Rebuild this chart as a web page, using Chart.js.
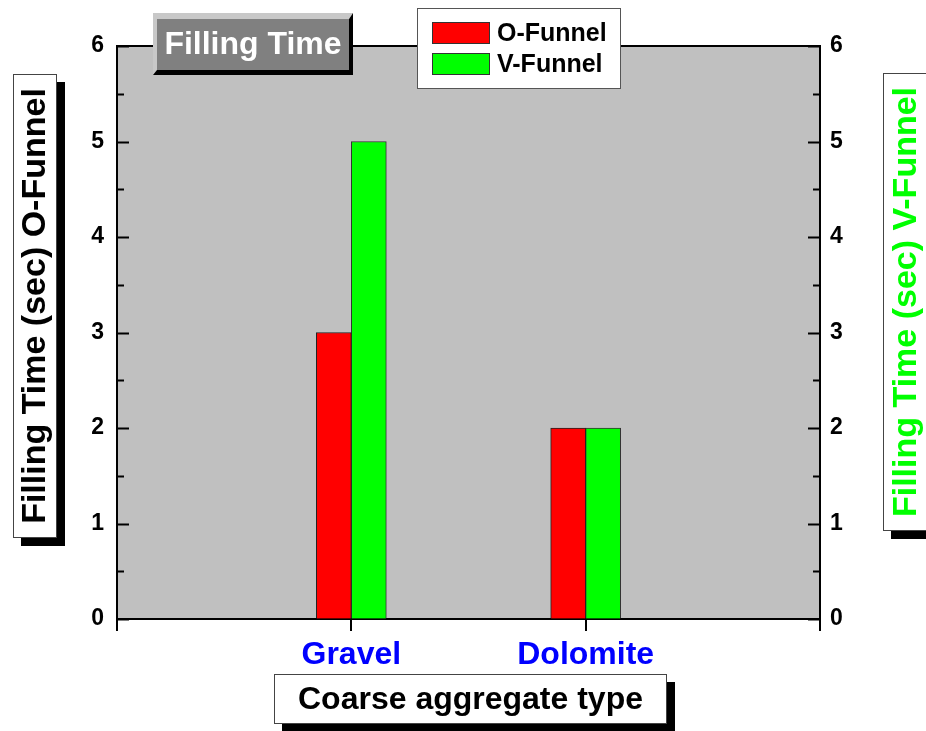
<!DOCTYPE html>
<html>
<head>
<meta charset="utf-8">
<script src="https://cdn.jsdelivr.net/npm/chart.js@4.4.1/dist/chart.umd.min.js"></script>
<style>
  html, body { margin: 0; padding: 0; background: #ffffff; }
  #wrap { position: relative; width: 926px; height: 731px; }
</style>
</head>
<body>
<div id="wrap"><canvas id="c" width="926" height="731"></canvas></div>
<script>
// ---- data ----
const categories = ['', 'Gravel', 'Dolomite', ''];
const oFunnel = [null, 3, 2, null];
const vFunnel = [null, 5, 2, null];
const yTicks = [0, 1, 2, 3, 4, 5, 6];
const seriesNames = ['O-Funnel', 'V-Funnel'];
const chartTitle = 'Filling Time';
const xTitle = 'Coarse aggregate type';
const yLeftTitle = 'Filling Time (sec) O-Funnel';
const yRightTitle = 'Filling Time (sec) V-Funnel';

const FONT = '"Liberation Sans", Arial, Helvetica, sans-serif';

const plotBg = {
  id: 'plotBg',
  beforeDraw(chart) {
    const { ctx, chartArea: a } = chart;
    ctx.save();
    ctx.fillStyle = '#c0c0c0';
    ctx.fillRect(a.left, a.top, a.right - a.left, a.bottom - a.top);
    ctx.restore();
  }
};

function shadowBox(ctx, x, y, w, h, off) {
  ctx.fillStyle = '#000';
  ctx.fillRect(x + off, y + off, w, h);
  ctx.fillStyle = '#fff';
  ctx.fillRect(x, y, w, h);
  ctx.strokeStyle = '#444';
  ctx.lineWidth = 1;
  ctx.strokeRect(x + 0.5, y + 0.5, w - 1, h - 1);
}

const decor = {
  id: 'decor',
  afterDraw(chart) {
    const { ctx, chartArea: a } = chart;
    ctx.save();
    // top frame line
    ctx.strokeStyle = '#000';
    ctx.lineWidth = 2;
    ctx.beginPath();
    ctx.moveTo(a.left, a.top);
    ctx.lineTo(a.right, a.top);
    ctx.stroke();

    // inward ticks on y axes
    ['y', 'y1'].forEach(id => {
      const s = chart.scales[id];
      for (let v = s.min; v <= s.max + 1e-9; v += 0.5) {
        const py = Math.round(s.getPixelForValue(v)) + 0.5;
        const major = Math.abs(v - Math.round(v)) < 1e-9;
        const len = major ? 12 : 7;
        ctx.beginPath();
        if (id === 'y') { ctx.moveTo(a.left, py); ctx.lineTo(a.left + len, py); }
        else { ctx.moveTo(a.right, py); ctx.lineTo(a.right - len, py); }
        ctx.lineWidth = 2;
        ctx.stroke();
      }
    });

    // title bevel box
    const tx = 153, ty = 13, tw = 200, th = 62;
    ctx.fillStyle = '#c8c8c8';
    ctx.beginPath();
    ctx.moveTo(tx, ty); ctx.lineTo(tx + tw, ty); ctx.lineTo(tx + tw - 4, ty + 6);
    ctx.lineTo(tx + 4, ty + 6); ctx.lineTo(tx + 4, ty + th - 5); ctx.lineTo(tx, ty + th);
    ctx.closePath(); ctx.fill();
    ctx.fillStyle = '#000';
    ctx.beginPath();
    ctx.moveTo(tx + tw, ty); ctx.lineTo(tx + tw, ty + th); ctx.lineTo(tx, ty + th);
    ctx.lineTo(tx + 4, ty + th - 5); ctx.lineTo(tx + tw - 4, ty + th - 5); ctx.lineTo(tx + tw - 4, ty + 6);
    ctx.closePath(); ctx.fill();
    ctx.fillStyle = '#808080';
    ctx.fillRect(tx + 4, ty + 6, tw - 8, th - 11);
    ctx.fillStyle = '#fff';
    ctx.font = 'bold 32px ' + FONT;
    ctx.textAlign = 'center';
    ctx.textBaseline = 'middle';
    ctx.fillText(chartTitle, tx + tw / 2, ty + th / 2 + 1);

    // legend
    const lx = 417, ly = 8, lw = 204, lh = 81;
    ctx.fillStyle = '#fff';
    ctx.fillRect(lx, ly, lw, lh);
    ctx.strokeStyle = '#555';
    ctx.lineWidth = 1;
    ctx.strokeRect(lx + 0.5, ly + 0.5, lw - 1, lh - 1);
    chart.data.datasets.forEach((ds, i) => {
      const sy = 22 + i * 31;
      ctx.fillStyle = ds.backgroundColor;
      ctx.fillRect(432, sy, 58, 22);
      ctx.strokeStyle = '#333';
      ctx.strokeRect(432.5, sy + 0.5, 57, 21);
      ctx.fillStyle = '#000';
      ctx.font = 'bold 25px ' + FONT;
      ctx.textAlign = 'left';
      ctx.textBaseline = 'middle';
      ctx.fillText(ds.label, 497, sy + 12);
    });

    // x axis title box
    shadowBox(ctx, 274, 674, 393, 50, 8);
    ctx.fillStyle = '#000';
    ctx.font = 'bold 32px ' + FONT;
    ctx.textAlign = 'center';
    ctx.textBaseline = 'middle';
    ctx.fillText(xTitle, 274 + 393 / 2, 674 + 26);

    // left y title box
    shadowBox(ctx, 13, 74, 44, 464, 8);
    ctx.save();
    ctx.translate(35, 306);
    ctx.rotate(-Math.PI / 2);
    ctx.fillStyle = '#000';
    ctx.font = 'bold 34px ' + FONT;
    ctx.textAlign = 'center';
    ctx.textBaseline = 'middle';
    ctx.fillText(yLeftTitle, 0, 1);
    ctx.restore();

    // right y title box
    shadowBox(ctx, 883, 73, 50, 458, 8);
    ctx.save();
    ctx.translate(906, 302);
    ctx.rotate(-Math.PI / 2);
    ctx.fillStyle = '#00ff00';
    ctx.font = 'bold 34px ' + FONT;
    ctx.textAlign = 'center';
    ctx.textBaseline = 'middle';
    ctx.fillText(yRightTitle, 0, 1);
    ctx.restore();

    ctx.restore();
  }
};

new Chart(document.getElementById('c'), {
  type: 'bar',
  data: {
    labels: categories,
    datasets: [
      { label: seriesNames[0], data: oFunnel, backgroundColor: '#ff0000', borderColor: '#222', borderWidth: 1, yAxisID: 'y', barThickness: 35 },
      { label: seriesNames[1], data: vFunnel, backgroundColor: '#00ff00', borderColor: '#333', borderWidth: 1, yAxisID: 'y1', barThickness: 35 }
    ]
  },
  options: {
    responsive: false,
    animation: false,
    layout: { padding: { top: 46, left: 0, right: 0, bottom: 0 } },
    plugins: { legend: { display: false }, tooltip: { enabled: false }, title: { display: false } },
    scales: {
      x: {
        type: 'category',
        offset: false,
        grid: { display: true, offset: false, drawOnChartArea: false, drawTicks: true, tickLength: 12, color: '#000', lineWidth: 2 },
        border: { display: true, color: '#000', width: 2 },
        ticks: { color: '#0000ff', font: { family: FONT, size: 32, weight: 'bold' }, padding: 5, autoSkip: false, maxRotation: 0 },
        afterFit(s) { s.height = 112; }
      },
      y: {
        position: 'left',
        min: 0, max: 6,
        afterBuildTicks(s) { s.ticks = yTicks.map(v => ({ value: v })); },
        grid: { display: true, drawOnChartArea: false, drawTicks: false },
        border: { display: true, color: '#000', width: 2 },
        ticks: { color: '#000', font: { family: FONT, size: 23, weight: 'bold' }, padding: 13 },
        afterFit(s) { s.width = 117; }
      },
      y1: {
        position: 'right',
        min: 0, max: 6,
        afterBuildTicks(s) { s.ticks = yTicks.map(v => ({ value: v })); },
        grid: { display: true, drawOnChartArea: false, drawTicks: false },
        border: { display: true, color: '#000', width: 2 },
        ticks: { color: '#000', font: { family: FONT, size: 23, weight: 'bold' }, padding: 10 },
        afterFit(s) { s.width = 106; }
      }
    }
  },
  plugins: [plotBg, decor]
});
</script>
</body>
</html>
